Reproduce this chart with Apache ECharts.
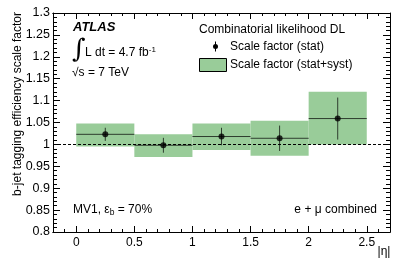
<!DOCTYPE html>
<html><head><meta charset="utf-8">
<script src="https://cdn.jsdelivr.net/npm/echarts@6/dist/echarts.min.js"></script>
<style>html,body{margin:0;padding:0;background:#fff}#c{width:407px;height:261px}</style>
</head><body><div id="c"></div>
<script>
const binEdges = [0, 0.5, 1, 1.5, 2, 2.5];
const scaleFactor = [1.023, 0.998, 1.018, 1.014, 1.059];
const statErr = [0.015, 0.017, 0.020, 0.029, 0.048];
const systHigh = [1.048, 1.023, 1.048, 1.054, 1.120];
const systLow = [0.995, 0.971, 0.987, 0.974, 1.000];
const xMajorTicks = [0, 0.5, 1, 1.5, 2, 2.5];
const xMinorTicks = [-0.2,-0.1,0.1,0.2,0.3,0.4,0.6,0.7,0.8,0.9,1.1,1.2,1.3,1.4,1.6,1.7,1.8,1.9,2.1,2.2,2.3,2.4,2.6,2.7];
const xMin = -0.2, xMax = 2.7, yMin = 0.8, yMax = 1.3, yStep = 0.05;

const FONT = 'Liberation Sans, Arial, Helvetica, sans-serif';
const GREEN = '#99cc99';

const boxData = scaleFactor.map((v, i) => [binEdges[i], binEdges[i+1], systLow[i], systHigh[i]]);
const errData = scaleFactor.map((v, i) => [binEdges[i], binEdges[i+1], v, statErr[i]]);
const ptData = scaleFactor.map((v, i) => [(binEdges[i] + binEdges[i+1]) / 2, v]);

function xAxisDef(pos, ticks, len, labels) {
  return {
    type: 'value', position: pos, min: xMin, max: xMax,
    axisLine: { show: true, onZero: false, lineStyle: { color: '#000', width: 1 } },
    axisTick: { show: true, inside: true, length: len, customValues: ticks, lineStyle: { color: '#000' } },
    axisLabel: labels ? { show: true, customValues: ticks, color: '#000', fontFamily: FONT, fontSize: 12, margin: 5,
      formatter: v => String(Number(v.toFixed(2))) } : { show: false },
    splitLine: { show: false }
  };
}
function yAxisDef(pos, labels) {
  return {
    type: 'value', position: pos, min: yMin, max: yMax, interval: yStep,
    axisLine: { show: true, onZero: false, lineStyle: { color: '#000', width: 1 } },
    axisTick: { show: true, inside: true, length: 7, lineStyle: { color: '#000' } },
    minorTick: { show: true, splitNumber: 5, length: 4, lineStyle: { color: '#000' } },
    axisLabel: labels ? { show: true, color: '#000', fontFamily: FONT, fontSize: 12.5, margin: 3,
      formatter: v => String(Number(v.toFixed(2))) } : { show: false },
    splitLine: { show: false }, minorSplitLine: { show: false }
  };
}

const chart = echarts.init(document.getElementById('c'), null, { renderer: 'canvas' });
chart.setOption({
  animation: false,
  backgroundColor: '#fff',
  grid: { left: 53, right: 17, top: 13, bottom: 29, containLabel: false },
  xAxis: [
    xAxisDef('bottom', xMajorTicks, 6, true),
    xAxisDef('bottom', xMinorTicks, 3, false),
    xAxisDef('top', xMajorTicks, 6, false),
    xAxisDef('top', xMinorTicks, 3, false)
  ],
  yAxis: [ yAxisDef('left', true), yAxisDef('right', false) ],
  series: [
    {
      type: 'custom', xAxisIndex: 0, yAxisIndex: 0, data: boxData, z: 1,
      renderItem: (params, api) => {
        const p0 = api.coord([api.value(0), api.value(3)]);
        const p1 = api.coord([api.value(1), api.value(2)]);
        return { type: 'rect', shape: { x: p0[0], y: p0[1], width: p1[0] - p0[0], height: p1[1] - p0[1] },
          style: { fill: GREEN } };
      }
    },
    {
      type: 'scatter', xAxisIndex: 0, yAxisIndex: 0, data: ptData, symbolSize: 6, z: 5,
      itemStyle: { color: '#000' },
      markLine: {
        silent: true, symbol: 'none', label: { show: false },
        lineStyle: { color: '#000', width: 1, type: [3, 2] },
        data: [{ yAxis: 1 }]
      }
    },
    {
      type: 'custom', xAxisIndex: 0, yAxisIndex: 0, data: errData, z: 4,
      renderItem: (params, api) => {
        const x0 = api.value(0), x1 = api.value(1), y = api.value(2), e = api.value(3);
        const xc = (x0 + x1) / 2;
        const a = api.coord([x0, y]), b = api.coord([x1, y]);
        const t = api.coord([xc, y + e]), u = api.coord([xc, y - e]);
        const st = { stroke: 'rgba(0,0,0,0.7)', lineWidth: 1 };
        return { type: 'group', children: [
          { type: 'line', shape: { x1: a[0], y1: a[1], x2: b[0], y2: b[1] }, style: st },
          { type: 'line', shape: { x1: t[0], y1: t[1], x2: u[0], y2: u[1] }, style: st }
        ] };
      }
    }
  ],
  graphic: [
    { type: 'text', x: 18, y: 12, rotation: Math.PI / 2,
      style: { text: 'b-jet tagging efficiency scale factor', fill: '#000', font: '12px ' + FONT, align: 'right', verticalAlign: 'middle' } },
    { type: 'text', x: 384, y: 252,
      style: { text: '|η|', fill: '#000', font: '12px ' + FONT, align: 'center', verticalAlign: 'middle' } },
    { type: 'text', x: 73, y: 27,
      style: { text: 'ATLAS', fill: '#000', font: 'italic bold 13px ' + FONT, align: 'left', verticalAlign: 'middle' } },
    { type: 'text', x: 72, y: 50,
      style: { text: '∫', fill: '#000', font: '26px DejaVu Serif', align: 'left', verticalAlign: 'middle' } },
    { type: 'text', x: 85, y: 53,
      style: { text: '{n|L dt = 4.7 fb}{s|-1}', fill: '#000', align: 'left', verticalAlign: 'middle',
        rich: { n: { font: '12px ' + FONT, fill: '#000' }, s: { font: '8px ' + FONT, fill: '#000', verticalAlign: 'top', padding: [0, 0, 6, 0] } } } },
    { type: 'text', x: 72, y: 73,
      style: { text: '√s = 7 TeV', fill: '#000', font: '12px ' + FONT, align: 'left', verticalAlign: 'middle' } },
    { type: 'text', x: 73, y: 210,
      style: { text: '{n|MV1, ε}{s|b}{n| = 70%}', fill: '#000', align: 'left', verticalAlign: 'middle',
        rich: { n: { font: '12px ' + FONT, fill: '#000' }, s: { font: '8.5px ' + FONT, fill: '#000', padding: [5, 0, 0, 0] } } } },
    { type: 'text', x: 377, y: 210,
      style: { text: 'e + μ combined', fill: '#000', font: '12px ' + FONT, align: 'right', verticalAlign: 'middle' } },
    { type: 'text', x: 199, y: 29.5,
      style: { text: 'Combinatorial likelihood DL', fill: '#000', font: '12px ' + FONT, align: 'left', verticalAlign: 'middle' } },
    { type: 'line', shape: { x1: 215.5, y1: 41.5, x2: 215.5, y2: 51.5 }, style: { stroke: '#000', lineWidth: 1 } },
    { type: 'circle', shape: { cx: 215.5, cy: 46.5, r: 2.5 }, style: { fill: '#000' } },
    { type: 'text', x: 230, y: 46.5,
      style: { text: 'Scale factor (stat)', fill: '#000', font: '12px ' + FONT, align: 'left', verticalAlign: 'middle' } },
    { type: 'rect', shape: { x: 199.5, y: 58.5, width: 27, height: 13 }, style: { fill: GREEN, stroke: '#000', lineWidth: 1 } },
    { type: 'text', x: 230, y: 65,
      style: { text: 'Scale factor (stat+syst)', fill: '#000', font: '12px ' + FONT, align: 'left', verticalAlign: 'middle' } }
  ]
});
</script></body></html>
